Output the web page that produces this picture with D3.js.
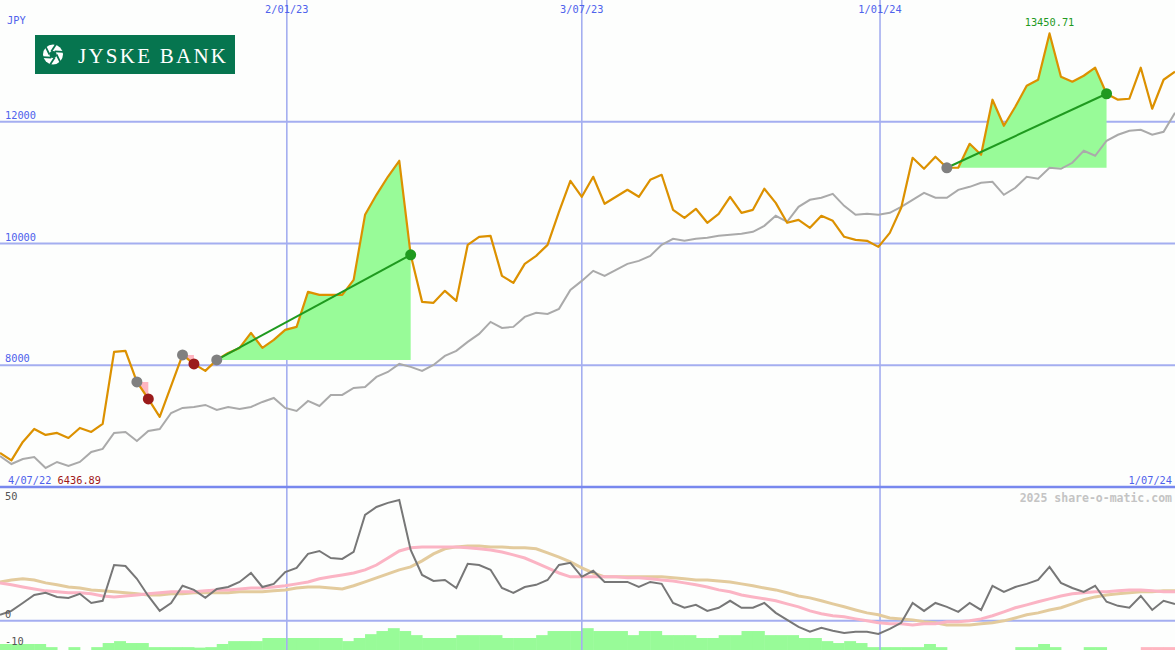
<!DOCTYPE html>
<html><head><meta charset="utf-8">
<script src="https://cdn.jsdelivr.net/npm/d3@7"></script>
<style>
html,body{margin:0;padding:0;background:#fdfefd;}
svg{display:block;}
text{font-family:"DejaVu Sans Mono",monospace;}
</style></head><body>
<svg id="chart" width="1175" height="650"></svg>
<script>
// ---------- DATA ----------
const startDate = new Date(2022, 6, 10);   // first weekly observation
const currency = "JPY";
const price = [6559, 6436.89, 6740, 6953, 6855, 6888, 6805, 6970, 6904, 7036,
  8219, 8236, 7726, 7447, 7151, 7660, 8170, 8022, 7907, 8088,
  8203, 8285, 8531, 8285, 8416, 8581, 8630, 9205, 9156, 9156,
  9156, 9403, 10471, 10800, 11096, 11359, 9814, 9041, 9025, 9222,
  9057, 9978, 10110, 10126, 9468, 9353, 9666, 9797, 9978, 10520,
  11030, 10767, 11096, 10652, 10767, 10882, 10767, 11046, 11129, 10553,
  10422, 10570, 10340, 10488, 10767, 10504, 10553, 10899, 10668, 10340,
  10389, 10257, 10455, 10373, 10110, 10060, 10044, 9945, 10175, 10586,
  11408, 11227, 11425, 11244, 11244, 11638, 11457, 12362, 11934, 12246,
  12592, 12690, 13450.71, 12740, 12657, 12756, 12888, 12460, 12362, 12378,
  12888, 12214, 12690, 12822];
const benchmark = [6510, 6378, 6460, 6493, 6312, 6411, 6345, 6411, 6575, 6625,
  6888, 6904, 6756, 6921, 6953, 7216, 7299, 7315, 7348, 7266,
  7315, 7282, 7315, 7397, 7463, 7299, 7249, 7414, 7331, 7512,
  7512, 7627, 7644, 7808, 7890, 8022, 7973, 7907, 8005, 8153,
  8236, 8384, 8515, 8712, 8614, 8630, 8794, 8861, 8844, 8926,
  9238, 9386, 9551, 9468, 9567, 9666, 9715, 9797, 9978, 10077,
  10044, 10077, 10093, 10126, 10142, 10159, 10192, 10290, 10455, 10356,
  10603, 10718, 10751, 10816, 10619, 10471, 10488, 10471, 10504, 10603,
  10718, 10833, 10751, 10751, 10882, 10931, 10997, 11014, 10800, 10915,
  11096, 11063, 11244, 11227, 11326, 11523, 11441, 11688, 11786, 11852,
  11868, 11786, 11835, 12148];
const oscillator = [2.5, 4.1, 7.4, 10.7, 11.6, 9.9, 9.5, 11.2, 7.4, 8.3,
  23.1, 22.7, 17.4, 10.3, 4.1, 7.4, 14.5, 12.8, 9.5, 13.2,
  14.0, 16.1, 19.8, 14.0, 15.3, 20.2, 21.9, 27.7, 28.9, 26.0,
  25.6, 28.5, 43.8, 47.1, 48.8, 50.0, 29.3, 19.0, 16.5, 16.9,
  13.6, 23.6, 23.1, 21.1, 13.6, 11.6, 14.0, 14.9, 16.9, 23.1,
  24.0, 18.2, 20.7, 16.1, 16.1, 16.1, 14.0, 16.1, 15.3, 7.4,
  5.4, 6.6, 4.1, 5.4, 8.3, 5.4, 5.4, 7.4, 3.3, 0.4,
  -2.5, -4.5, -2.9, -4.1, -5.0, -4.5, -4.5, -5.4, -3.3, -0.8,
  7.4, 4.1, 7.4, 5.8, 3.7, 7.4, 4.5, 14.5, 12.0, 14.0,
  15.3, 16.9, 22.3, 15.7, 13.6, 12.0, 14.5, 7.9, 6.2, 5.4,
  10.3, 4.5, 8.3, 7.0];
const maFast = [15.7, 14.9, 14.0, 13.2, 12.4, 12.0, 11.6, 11.6, 11.2, 10.3,
  9.9, 10.3, 10.7, 11.2, 11.6, 12.0, 12.0, 12.0, 12.4, 12.8,
  12.8, 13.2, 13.6, 13.6, 14.0, 14.5, 15.3, 16.1, 17.4, 18.2,
  19.0, 19.8, 21.1, 23.1, 26.0, 28.9, 30.2, 30.6, 30.6, 30.6,
  30.6, 30.2, 29.8, 29.3, 28.5, 27.3, 26.0, 24.0, 21.9, 19.8,
  18.2, 18.2, 18.2, 18.2, 18.2, 17.8, 17.8, 17.4, 16.9, 16.5,
  15.7, 14.9, 14.0, 12.8, 12.0, 10.7, 9.9, 9.1, 8.3, 7.0,
  5.8, 4.1, 2.9, 2.1, 1.7, 0.8, 0, -0.8, -1.2, -1.2,
  -1.7, -1.2, -1.2, -0.4, -0.4, 0, 0.8, 2.1, 3.7, 5.4,
  6.6, 7.9, 9.1, 10.3, 11.2, 11.6, 12.0, 12.0, 12.4, 12.8,
  12.8, 12.4, 12.0, 12.0];
const maSlow = [16.1, 16.9, 17.4, 16.9, 15.7, 14.9, 14.0, 13.6, 12.8, 12.4,
  12.0, 11.6, 11.2, 10.7, 10.7, 11.2, 11.2, 11.6, 11.6, 11.6,
  11.6, 12.0, 12.0, 12.0, 12.4, 12.8, 13.6, 14.0, 14.0, 13.6,
  13.2, 14.5, 16.1, 17.8, 19.4, 21.1, 22.3, 24.8, 27.7, 29.8,
  30.6, 31.0, 31.0, 30.6, 30.6, 30.2, 30.2, 29.8, 28.1, 26.4,
  24.4, 21.9, 19.8, 18.2, 18.2, 18.2, 18.2, 18.2, 18.2, 17.8,
  17.4, 16.9, 16.9, 16.5, 16.1, 15.3, 14.5, 13.6, 12.8, 11.6,
  10.3, 9.5, 8.3, 7.0, 5.8, 4.5, 3.3, 2.5, 1.2, 0.8,
  0.4, -0.4, -0.8, -1.7, -1.7, -1.7, -1.2, -0.8, 0, 1.2,
  2.5, 3.3, 4.5, 5.4, 7.0, 8.7, 9.9, 10.7, 11.2, 11.6,
  12.0, 12.0, 12.4, 12.4];
const histogram = [2.5, 2.5, 2.5, 2.5, 1.2, 0, 1.2, 0, 1.2, 2.9,
  3.7, 2.9, 2.9, 1.2, 1.2, 1.2, 1.2, 1.0, 1.2, 2.5,
  3.7, 3.7, 3.7, 5.0, 5.0, 5.0, 5.0, 5.0, 5.0, 5.0,
  3.7, 5.0, 6.6, 7.9, 9.1, 7.9, 6.2, 5.0, 5.0, 5.0,
  6.2, 6.2, 6.2, 6.2, 5.0, 5.0, 5.0, 6.2, 7.9, 7.9,
  7.9, 9.1, 7.9, 7.9, 7.9, 6.2, 7.9, 7.9, 6.2, 6.2,
  6.2, 5.0, 5.0, 6.2, 6.2, 7.9, 7.9, 6.2, 6.2, 6.2,
  5.0, 5.0, 3.7, 2.9, 3.7, 2.9, 1.2, 1.2, 1.2, 1.2,
  1.2, 2.5, 1.2, 0, 0, 0, 0, 0, 0, 1.2,
  1.2, 2.5, 1.2, 0, 0, 1.2, 1.2, 0, 0, 0,
  -1.2, -1.2, -1.2, -1.2];
// trades: entry / exit index into the weekly series
const tradeEntry = [12, 16, 19, 83];
const tradeExit  = [13, 17, 36, 97];
const priceTicks = [12000, 10000, 8000];
const priceTickLabels = ["12000", "10000", "8000"];
const gridDates = [new Date(2023, 0, 2), new Date(2023, 6, 2), new Date(2024, 0, 1)];
const gridDateLabels = ["2/01/23", "3/07/23", "1/01/24"];
const firstDateLabel = "4/07/22";
const lastDateLabel = "1/07/24";
const oscTicks = [50, 0, -10];
const oscTickLabels = ["50", "0", "-10"];
const watermark = "2025 share-o-matic.com";
const logoText = "JYSKE BANK";

// ---------- SCALES ----------
const W = 1175, H = 650, mainBottom = 487;
const dates = price.map((d, i) => d3.timeDay.offset(startDate, 7 * i));
const x = d3.scaleTime().domain([dates[0], dates[dates.length - 1]]).range([0, W]);
const y = d3.scaleLinear().domain([6000, 14000]).range([mainBottom, 0]);
const y2 = d3.scaleLinear().domain([-10, 50]).range([645, 500]);
const yb = d3.scaleLinear().domain([0, 10]).range([0, 24]);

const svg = d3.select("#chart");
svg.append("rect").attr("width", W).attr("height", H).attr("fill", "#fdfefd");

const blue = "#4f62ec", gridCol = "#a4aef0";

// histogram bars (bottom)
const step = x(dates[1]) - x(dates[0]);
svg.append("g").selectAll("rect").data(histogram).join("rect")
  .attr("x", (d, i) => x(dates[i]))
  .attr("width", step + 0.5)
  .attr("y", d => H - yb(Math.abs(d)))
  .attr("height", d => yb(Math.abs(d)))
  .attr("fill", d => d >= 0 ? "#98fb98" : "#ffb6c1");

// grid
const grid = svg.append("g");
grid.selectAll("line.h").data(priceTicks).join("line")
  .attr("x1", 0).attr("x2", W).attr("y1", d => y(d)).attr("y2", d => y(d))
  .attr("stroke", gridCol).attr("stroke-width", 2);
grid.selectAll("line.v").data(gridDates).join("line")
  .attr("x1", d => x(d)).attr("x2", d => x(d)).attr("y1", 0).attr("y2", H)
  .attr("stroke", gridCol).attr("stroke-width", 1.6);
grid.append("line").attr("x1", 0).attr("x2", W).attr("y1", y2(0)).attr("y2", y2(0))
  .attr("stroke", gridCol).attr("stroke-width", 2);
grid.append("line").attr("x1", 0).attr("x2", W).attr("y1", mainBottom).attr("y2", mainBottom)
  .attr("stroke", "#7888ee").attr("stroke-width", 2.5);

// trade areas
const trades = tradeEntry.map((e, k) => ({ e, x: tradeExit[k], gain: price[tradeExit[k]] >= price[e] }));
trades.forEach(t => {
  const idx = d3.range(t.e, t.x + 1);
  const base = price[t.e];
  const area = d3.area()
    .x(i => x(dates[i]))
    .y0(y(base))
    .y1(i => t.gain ? y(Math.max(price[i], base)) : y(Math.min(price[i], base)));
  svg.append("path").datum(idx).attr("d", area)
    .attr("fill", t.gain ? "#98fb98" : "#ffb6c1");
});

// benchmark + price lines
const line = arr => d3.line().x((d, i) => x(dates[i])).y(d => y(d))(arr);
svg.append("path").attr("d", line(benchmark)).attr("fill", "none")
  .attr("stroke", "#aaaaaa").attr("stroke-width", 2);
svg.append("path").attr("d", line(price)).attr("fill", "none")
  .attr("stroke", "#dc9100").attr("stroke-width", 2.2).attr("stroke-linejoin", "round");

// trade lines and dots
trades.forEach(t => {
  if (t.gain) {
    svg.append("line")
      .attr("x1", x(dates[t.e])).attr("y1", y(price[t.e]))
      .attr("x2", x(dates[t.x])).attr("y2", y(price[t.x]))
      .attr("stroke", "#1f9a1f").attr("stroke-width", 2);
  }
  svg.append("circle").attr("cx", x(dates[t.e])).attr("cy", y(price[t.e])).attr("r", 5.5)
    .attr("fill", "#808080");
  svg.append("circle").attr("cx", x(dates[t.x])).attr("cy", y(price[t.x])).attr("r", 5.5)
    .attr("fill", t.gain ? "#1f9a1f" : "#9b1b1b");
});

// lower panel lines
const line2 = arr => d3.line().x((d, i) => x(dates[i])).y(d => y2(d))(arr);
svg.append("path").attr("d", line2(maSlow)).attr("fill", "none")
  .attr("stroke", "#e3cb9d").attr("stroke-width", 3);
svg.append("path").attr("d", line2(maFast)).attr("fill", "none")
  .attr("stroke", "#fbb4c4").attr("stroke-width", 3);
svg.append("path").attr("d", line2(oscillator)).attr("fill", "none")
  .attr("stroke", "#777777").attr("stroke-width", 2);

// texts
const txt = svg.append("g").attr("font-size", "10.3px");
txt.append("text").attr("x", 7).attr("y", 24).attr("fill", blue).text(currency);
txt.selectAll("text.py").data(priceTicks).join("text")
  .attr("x", 5).attr("y", d => y(d) - 3).attr("fill", blue)
  .text((d, i) => priceTickLabels[i]);
txt.selectAll("text.dt").data(gridDates).join("text")
  .attr("x", d => x(d)).attr("y", 13).attr("text-anchor", "middle").attr("fill", blue)
  .text((d, i) => gridDateLabels[i]);
const minIdx = d3.minIndex(price), maxIdx = d3.maxIndex(price);
const lt = txt.append("text").attr("x", 8).attr("y", 484).attr("fill", blue);
lt.append("tspan").text(firstDateLabel + " ");
lt.append("tspan").attr("fill", "#a01818").text(price[minIdx].toFixed(2));
txt.append("text").attr("x", 1172).attr("y", 484).attr("text-anchor", "end")
  .attr("fill", blue).text(lastDateLabel);
txt.append("text").attr("x", x(dates[maxIdx])).attr("y", 26).attr("text-anchor", "middle")
  .attr("fill", "#1f9a1f").text(price[maxIdx].toFixed(2));
txt.append("text").attr("x", 1172).attr("y", 502).attr("text-anchor", "end")
  .attr("fill", "#c4c4c4").attr("font-weight", "bold").attr("font-size", "11.5px").text(watermark);
const oscOffset = [0, -3, 0];
txt.selectAll("text.os").data(oscTicks).join("text")
  .attr("x", 5).attr("y", (d, i) => y2(d) + oscOffset[i]).attr("fill", "#555")
  .text((d, i) => oscTickLabels[i]);

// logo
const logo = svg.append("g");
logo.append("rect").attr("x", 35).attr("y", 35).attr("width", 200).attr("height", 39).attr("fill", "#06754f");
logo.append("circle").attr("cx", 53).attr("cy", 54.5).attr("r", 10).attr("fill", "#fff");
d3.range(6).forEach(k => {
  const a = k * Math.PI / 3, b = a + 0.8;
  logo.append("line")
    .attr("x1", 53 + 3.5 * Math.cos(a)).attr("y1", 54.5 + 3.5 * Math.sin(a))
    .attr("x2", 53 + 10.5 * Math.cos(b)).attr("y2", 54.5 + 10.5 * Math.sin(b))
    .attr("stroke", "#06754f").attr("stroke-width", 1.8);
});
logo.append("circle").attr("cx", 53).attr("cy", 54.5).attr("r", 3.5).attr("fill", "#06754f");
logo.append("text").attr("x", 78).attr("y", 62.5).attr("fill", "#fff")
  .style("font-family", "'Liberation Serif', serif").attr("font-size", "21px")
  .attr("textLength", 148).attr("lengthAdjust", "spacing").text(logoText);
</script>
</body></html>
